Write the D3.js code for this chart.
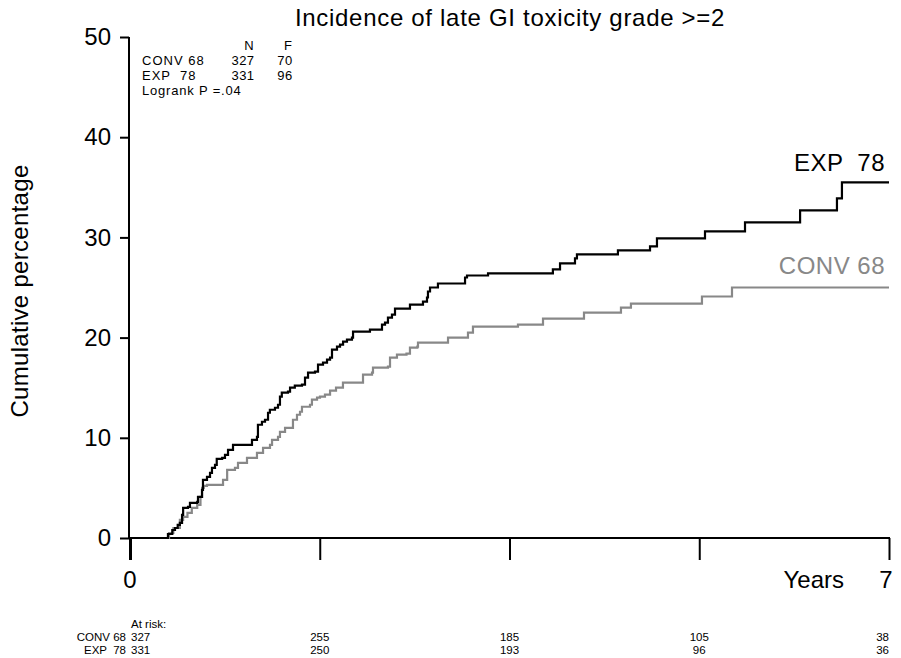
<!DOCTYPE html>
<html>
<head>
<meta charset="utf-8">
<script src="https://cdn.jsdelivr.net/npm/d3@7"></script>
<style>
  html, body { margin: 0; padding: 0; background: #fff; }
  svg { display: block; font-family: "Liberation Sans", Arial, sans-serif; }
</style>
</head>
<body>
<svg id="chart" width="901" height="658"></svg>
<script>
// Cumulative incidence (%) step functions: time in years, value after the step
const expTimes = [0, 0.35, 0.39, 0.415, 0.44, 0.46, 0.48, 0.49, 0.535, 0.553, 0.62, 0.627, 0.664, 0.673, 0.71, 0.738, 0.756, 0.784, 0.80, 0.85, 0.876, 0.904, 0.95, 1.125, 1.171, 1.18, 1.217, 1.245, 1.273, 1.29, 1.337, 1.365, 1.383, 1.40, 1.457, 1.476, 1.52, 1.586, 1.614, 1.642, 1.706, 1.734, 1.78, 1.817, 1.845, 1.863, 1.909, 1.937, 1.965, 2.001, 2.047, 2.057, 2.213, 2.324, 2.352, 2.379, 2.416, 2.444, 2.582, 2.702, 2.739, 2.748, 2.767, 2.84, 3.09, 3.108, 3.302, 3.90, 3.966, 4.104, 4.122, 4.50, 4.796, 4.86, 5.303, 5.672, 6.18, 6.52, 6.566, 7.0];
const expValues = [0, 0.4, 0.8, 1.0, 1.3, 1.5, 2.3, 3.0, 3.1, 3.5, 3.6, 4.1, 4.8, 5.8, 6.1, 6.5, 7.0, 7.3, 7.9, 8.0, 8.3, 8.8, 9.3, 9.8, 10.1, 11.3, 11.6, 11.8, 12.5, 12.8, 13.0, 13.3, 14.1, 14.5, 14.6, 15.0, 15.2, 15.3, 16.0, 16.5, 16.6, 17.3, 17.5, 17.8, 18.0, 18.8, 19.1, 19.3, 19.6, 19.8, 20.0, 20.6, 20.8, 21.3, 21.5, 22.0, 22.3, 22.9, 23.3, 23.6, 24.0, 24.6, 25.0, 25.4, 26.0, 26.2, 26.4, 26.8, 27.4, 27.9, 28.3, 28.7, 29.1, 29.9, 30.6, 31.5, 32.7, 33.9, 35.5, 35.5];

const convTimes = [0, 0.36, 0.40, 0.46, 0.49, 0.53, 0.57, 0.62, 0.65, 0.665, 0.68, 0.71, 0.858, 0.896, 0.968, 0.996, 1.079, 1.171, 1.227, 1.291, 1.31, 1.365, 1.383, 1.43, 1.503, 1.54, 1.568, 1.586, 1.66, 1.678, 1.725, 1.752, 1.798, 1.845, 1.90, 1.964, 2.149, 2.232, 2.241, 2.379, 2.398, 2.462, 2.55, 2.582, 2.65, 2.656, 2.933, 3.117, 3.163, 3.578, 3.809, 4.187, 4.528, 4.62, 5.275, 5.552, 7.0];
const convValues = [0, 0.5, 1.0, 1.8, 2.1, 2.5, 3.0, 3.3, 4.1, 5.0, 5.2, 5.3, 5.8, 6.8, 7.0, 7.5, 8.0, 8.5, 9.0, 9.3, 9.8, 10.1, 10.6, 11.0, 11.8, 12.3, 12.6, 13.1, 13.3, 13.8, 14.0, 14.1, 14.3, 14.7, 15.0, 15.5, 16.3, 16.5, 17.0, 17.1, 18.0, 18.3, 18.4, 19.0, 19.1, 19.5, 20.0, 20.5, 21.1, 21.3, 21.9, 22.5, 23.0, 23.4, 24.1, 25.0, 25.0];

const yTicks = [0, 10, 20, 30, 40, 50];
const xTicks = [0, 1.75, 3.5, 5.25, 7];

const groups = ["CONV 68", "EXP  78"];
const groupN = [327, 331];
const groupF = [70, 96];
const logrankP = "Logrank P =.04";

const atRiskConv = [327, 255, 185, 105, 38];
const atRiskExp = [331, 250, 193, 96, 36];

const colorExp = "#000000";
const colorConv = "#888888";

const svg = d3.select("#chart");

const x = d3.scaleLinear().domain([0, 7]).range([130, 889]);
const y = d3.scaleLinear().domain([0, 50]).range([538, 37]);

const bigFont = 24;

// Title
svg.append("text")
  .attr("x", 510).attr("y", 26)
  .attr("text-anchor", "middle")
  .attr("font-size", bigFont)
  .attr("letter-spacing", 0.7)
  .text("Incidence of late GI toxicity grade >=2");

// Y axis
const yAxis = svg.append("g")
  .attr("transform", "translate(129,0)")
  .call(d3.axisLeft(y).tickValues(yTicks).tickSize(9).tickPadding(9));
yAxis.select(".domain").attr("d", `M0,${y(50)}V${y(0)}`).attr("stroke-width", 2);
yAxis.selectAll(".tick line").attr("stroke-width", 2);
yAxis.selectAll(".tick text")
  .attr("font-size", bigFont)
  .attr("font-family", "Liberation Sans, Arial, sans-serif");

svg.append("text")
  .attr("transform", "translate(28,291) rotate(-90)")
  .attr("text-anchor", "middle")
  .attr("font-size", bigFont)
  .attr("letter-spacing", 0.3)
  .text("Cumulative percentage");

// X axis
const xAxis = svg.append("g")
  .attr("transform", "translate(0,538)")
  .call(d3.axisBottom(x).tickValues(xTicks).tickSize(22).tickFormat(""));
xAxis.select(".domain").attr("d", `M${x(0) - 1},0H${x(7) + 1}`).attr("stroke-width", 2);
xAxis.selectAll(".tick line").attr("stroke-width", 2);
xAxis.select(".tick line").attr("stroke-width", 3);

svg.append("text").attr("x", x(0)).attr("y", 588)
  .attr("text-anchor", "middle").attr("font-size", bigFont).text("0");
svg.append("text").attr("x", x(7) - 3).attr("y", 588)
  .attr("text-anchor", "middle").attr("font-size", bigFont).text("7");
svg.append("text").attr("x", 844).attr("y", 588)
  .attr("text-anchor", "end").attr("font-size", bigFont).text("Years");

// Curves
const line = d3.line()
  .x(d => x(d[0]))
  .y(d => y(d[1]))
  .curve(d3.curveStepAfter);

const convData = convTimes.map((t, i) => [t, convValues[i]]);
const expData = expTimes.map((t, i) => [t, expValues[i]]);

svg.append("path").datum(convData)
  .attr("d", line).attr("fill", "none")
  .attr("stroke", colorConv).attr("stroke-width", 2.2);
svg.append("path").datum(expData)
  .attr("d", line).attr("fill", "none")
  .attr("stroke", colorExp).attr("stroke-width", 2.2);

// Curve labels
svg.append("text").attr("x", 885).attr("y", 171)
  .attr("text-anchor", "end").attr("font-size", bigFont).attr("fill", colorExp)
  .attr("letter-spacing", 0.5)
  .attr("xml:space", "preserve").text("EXP  78");
svg.append("text").attr("x", 885).attr("y", 274)
  .attr("text-anchor", "end").attr("font-size", bigFont).attr("fill", colorConv)
  .attr("letter-spacing", 0.5)
  .text("CONV 68");

// Summary table
const small = svg.append("g").attr("font-size", 13).attr("font-family", "Liberation Sans, Arial, sans-serif");
small.append("text").attr("x", 249).attr("y", 50).attr("text-anchor", "middle").text("N");
small.append("text").attr("x", 288).attr("y", 50).attr("text-anchor", "middle").text("F");
groups.forEach((g, i) => {
  const yy = 65 + i * 15;
  small.append("text").attr("x", 142).attr("y", yy).attr("letter-spacing", 1)
    .attr("xml:space", "preserve").text(g);
  small.append("text").attr("x", 243).attr("y", yy).attr("text-anchor", "middle").attr("letter-spacing", 0.4).text(groupN[i]);
  small.append("text").attr("x", 285).attr("y", yy).attr("text-anchor", "middle").attr("letter-spacing", 0.4).text(groupF[i]);
});
small.append("text").attr("x", 142).attr("y", 95).attr("letter-spacing", 0.8).text(logrankP);

// Numbers at risk
const risk = svg.append("g").attr("font-size", 11.5).attr("font-family", "Liberation Sans, Arial, sans-serif");
risk.append("text").attr("x", 131).attr("y", 628).text("At risk:");
[[atRiskConv, "CONV 68", 641], [atRiskExp, "EXP  78", 654]].forEach(([vals, name, yy]) => {
  risk.append("text").attr("x", 126).attr("y", yy).attr("text-anchor", "end")
    .attr("xml:space", "preserve").text(name);
  vals.forEach((v, i) => {
    const anchor = i === 0 ? "start" : (i === vals.length - 1 ? "end" : "middle");
    const xx = i === 0 ? x(xTicks[i]) + 1 : x(xTicks[i]);
    risk.append("text").attr("x", xx).attr("y", yy).attr("text-anchor", anchor).text(v);
  });
});
</script>
</body>
</html>
